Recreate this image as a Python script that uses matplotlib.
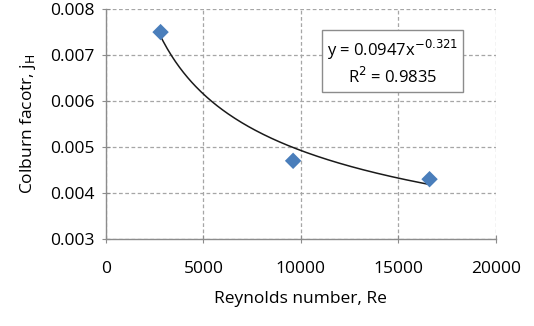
import matplotlib.pyplot as plt
import numpy as np

# Measured Colburn factor vs Reynolds number
re_vals = [2800, 9600, 16600]
jh_vals = [0.0075, 0.0047, 0.0043]

# Power-law trendline coefficients
coef_a = 0.0947
coef_b = -0.321
r_squared = 0.9835

plt.rcParams['font.family'] = ['Open Sans', 'DejaVu Sans']

fig = plt.figure(figsize=(5.34, 3.26), dpi=100)
ax = fig.add_axes([0.1985, 0.267, 0.730, 0.705])

x_fit = np.linspace(min(re_vals), max(re_vals), 200)
ax.plot(x_fit, coef_a * x_fit ** coef_b, color='#1a1a1a', lw=1.1, zorder=2)
ax.scatter(re_vals, jh_vals, marker='D', s=70, color='#4a7ebb', zorder=3,
           edgecolors='none')

ax.set_xlim(0, 20000)
ax.set_ylim(0.003, 0.008)
ax.set_xticks(range(0, 20001, 5000))
ax.set_yticks([0.003, 0.004, 0.005, 0.006, 0.007, 0.008])
ax.yaxis.set_major_formatter(plt.FuncFormatter(lambda v, p: f'{v:.3f}'))

ax.grid(True, ls=(0, (3, 2)), color='#a6a6a6', lw=0.9)
ax.set_axisbelow(True)
for side in ['top', 'right']:
    ax.spines[side].set_visible(False)
for side in ['left', 'bottom']:
    ax.spines[side].set_color('#8c8c8c')
    ax.spines[side].set_linewidth(1.0)

ax.tick_params(axis='both', direction='inout', length=6, color='#8c8c8c',
               labelsize=12.5, labelcolor='black')
ax.tick_params(axis='x', pad=13)
ax.tick_params(axis='y', pad=5)

ax.set_xlabel('Reynolds number, Re', fontsize=12.5, labelpad=10)
ax.set_ylabel('Colburn facotr, j$_\\mathrm{H}$', fontsize=12.5, labelpad=9)

eq = (f'y = {coef_a}x$^{{\\mathrm{{{coef_b}}}}}$\nR$^2$ = {r_squared}')
ax.text(14700, 0.00685, eq, fontsize=12, ha='center', va='center',
        linespacing=1.3, zorder=4,
        bbox=dict(boxstyle='square,pad=0.3', fc='white', ec='#8c8c8c', lw=1.0))

fig.savefig('out.png', dpi=100)
